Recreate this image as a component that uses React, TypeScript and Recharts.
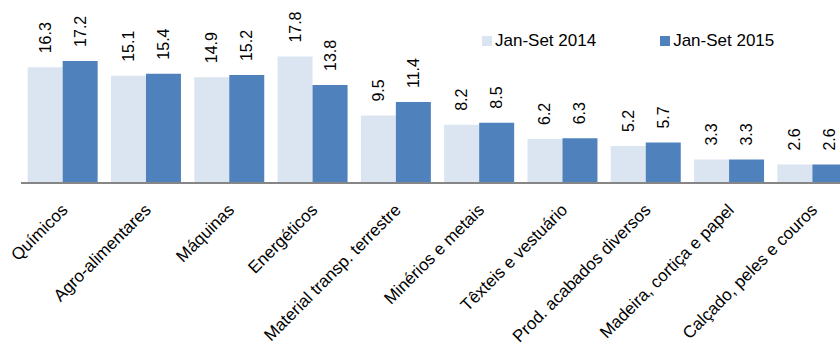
import React from 'react';
import { BarChart, Bar, XAxis, YAxis, Legend, LabelList } from 'recharts';

const categories = [
  'Químicos',
  'Agro-alimentares',
  'Máquinas',
  'Energéticos',
  'Material transp. terrestre',
  'Minérios e metais',
  'Têxteis e vestuário',
  'Prod. acabados diversos',
  'Madeira, cortiça e papel',
  'Calçado, peles e couros',
];
const values2014 = [16.3, 15.1, 14.9, 17.8, 9.5, 8.2, 6.2, 5.2, 3.3, 2.6];
const values2015 = [17.2, 15.4, 15.2, 13.8, 11.4, 8.5, 6.3, 5.7, 3.3, 2.6];
const seriesNames = ['Jan-Set 2014', 'Jan-Set 2015'];

const data = categories.map((c, i) => ({ name: c, s2014: values2014[i], s2015: values2015[i] }));

const LIGHT = '#dbe5f1';
const DARK = '#4f81bd';
const FONT = 'Arial, "Liberation Sans", sans-serif';

const ValueLabel = (props: any) => {
  const { x, y, width, value } = props;
  const cx = x + width / 2;
  const ly = y - 14;
  return (
    <text
      x={cx}
      y={ly}
      transform={`rotate(-90, ${cx}, ${ly})`}
      textAnchor="start"
      dominantBaseline="central"
      fontSize={16}
      fontFamily={FONT}
      fill="#000"
    >
      {Number(value).toFixed(1)}
    </text>
  );
};

const CategoryTick = (props: any) => {
  const { x, y, payload } = props;
  const ax = x + 6;
  const ay = y + 20;
  return (
    <text
      x={ax}
      y={ay}
      transform={`rotate(-45, ${ax}, ${ay})`}
      textAnchor="end"
      fontSize={17}
      fontFamily={FONT}
      fill="#000"
    >
      {payload.value}
    </text>
  );
};

const LegendContent = () => (
  <div style={{ display: 'flex', alignItems: 'center', fontFamily: FONT, fontSize: 17, color: '#000', whiteSpace: 'nowrap' }}>
    <span style={{ display: 'inline-block', width: 10, height: 10, background: LIGHT, marginRight: 3 }} />
    <span style={{ marginRight: 64 }}>{seriesNames[0]}</span>
    <span style={{ display: 'inline-block', width: 10, height: 10, background: DARK, marginRight: 3 }} />
    <span>{seriesNames[1]}</span>
  </div>
);

export default function App() {
  return (
    <div style={{ position: 'absolute', left: 0, top: 0, width: 840, height: 345, overflow: 'hidden', background: '#fff' }}>
      <BarChart
        width={860}
        height={345}
        data={data}
        margin={{ top: 5.5, right: 6, bottom: 132, left: 21 }}
        barCategoryGap="8%"
        barGap={0}
      >
        <XAxis
          dataKey="name"
          interval={0}
          tickLine={false}
          axisLine={{ stroke: '#868686', strokeWidth: 2 }}
          tick={<CategoryTick />}
        />
        <YAxis hide domain={[0, 25]} />
        <Legend
          layout="horizontal"
          verticalAlign="middle"
          align="center"
          content={<LegendContent />}
          wrapperStyle={{ position: 'absolute', top: 31, left: 482, width: 'auto' }}
        />
        <Bar dataKey="s2014" name={seriesNames[0]} fill={LIGHT} isAnimationActive={false}>
          <LabelList dataKey="s2014" content={<ValueLabel />} />
        </Bar>
        <Bar dataKey="s2015" name={seriesNames[1]} fill={DARK} isAnimationActive={false}>
          <LabelList dataKey="s2015" content={<ValueLabel />} />
        </Bar>
      </BarChart>
    </div>
  );
}
